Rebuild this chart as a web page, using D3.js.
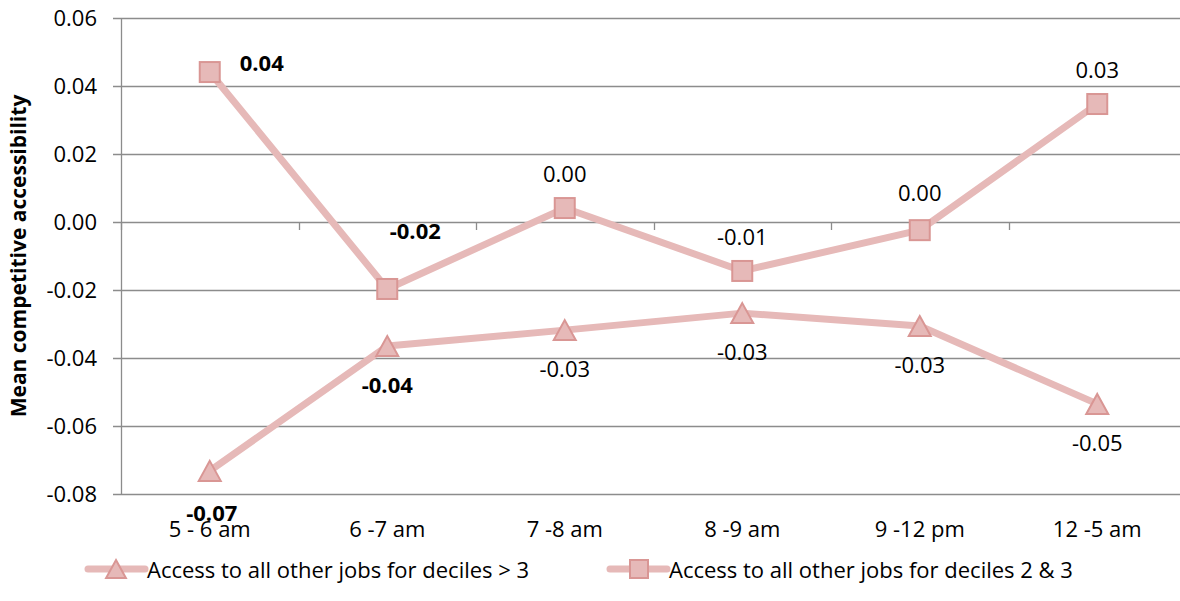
<!DOCTYPE html>
<html>
<head>
<meta charset="utf-8">
<script src="https://cdn.jsdelivr.net/npm/d3@7/dist/d3.min.js"></script>
<style>
  html, body { margin: 0; padding: 0; background: #fff; }
  svg { display: block; }
  text { font-family: "Open Sans", "Noto Sans", sans-serif; fill: #000; }
</style>
</head>
<body>
<svg id="chart" width="1180" height="601"></svg>
<script>
// ---- data ----
const categories = ["5 - 6 am", "6 -7 am", "7 -8 am", "8 -9 am", "9 -12 pm", "12 -5 am"];
const seriesNames = ["Access to all other jobs for deciles > 3", "Access to all other jobs for deciles 2 & 3"];
const decilesAbove3 = [-0.0732, -0.0365, -0.0318, -0.0268, -0.0306, -0.0535];
const deciles2and3 = [0.0441, -0.0197, 0.0041, -0.0144, -0.0024, 0.0347];
const yTickValues = [-0.08, -0.06, -0.04, -0.02, 0.00, 0.02, 0.04, 0.06];
const yTitle = "Mean competitive accessibility";

// ---- layout / style ----
const W = 1180, H = 601;
const plot = { left: 121, right: 1186, top: 18, bottom: 494 };
const lineColor = "#e6b9b8";
const markerStroke = "#d99694";
const gridColor = "#8c8c8c";
const fontSize = 22;

const loc = d3.formatLocale({ decimal: ".", thousands: ",", grouping: [3], currency: ["$", ""], minus: "-" });
const f2 = loc.format(".2f");
const fmt = v => { let s = f2(v); if (parseFloat(s) === 0) s = "0.00"; return s; };

const svg = d3.select("#chart");

const x = d3.scaleBand().domain(categories).range([plot.left, plot.right]).padding(0);
const cx = c => x(c) + x.bandwidth() / 2;
const y = d3.scaleLinear().domain([-0.08, 0.06]).range([plot.bottom, plot.top]);

// gridlines
svg.append("g").selectAll("line").data(yTickValues).join("line")
  .attr("x1", plot.left - 8).attr("x2", plot.right)
  .attr("y1", d => Math.round(y(d)) + 0.5).attr("y2", d => Math.round(y(d)) + 0.5)
  .attr("stroke", gridColor).attr("stroke-width", 1.3);

// y axis line
svg.append("line")
  .attr("x1", plot.left + 0.5).attr("x2", plot.left + 0.5)
  .attr("y1", plot.top).attr("y2", plot.bottom)
  .attr("stroke", gridColor).attr("stroke-width", 1.3);

// y tick labels
const yAxis = d3.axisLeft(y).tickValues(yTickValues).tickFormat(fmt).tickSize(0).tickPadding(24);
const gy = svg.append("g").attr("transform", `translate(${plot.left},0)`).call(yAxis);
gy.select(".domain").remove();
gy.selectAll("text").style("font-family", '"Open Sans", sans-serif').style("font-size", fontSize + "px").attr("fill", "#000").attr("dy", "0.35em");

// category tick marks on zero line (boundaries)
const boundaries = categories.map(c => x(c)).concat([plot.right]);
svg.append("g").selectAll("line").data(boundaries).join("line")
  .attr("x1", d => Math.round(d) + 0.5).attr("x2", d => Math.round(d) + 0.5)
  .attr("y1", Math.round(y(0))).attr("y2", Math.round(y(0)) + 8)
  .attr("stroke", gridColor).attr("stroke-width", 1.3);

// x category labels
const xAxis = d3.axisBottom(x).tickSize(0).tickPadding(27);
const gx = svg.append("g").attr("transform", `translate(0,${plot.bottom})`).call(xAxis);
gx.select(".domain").remove();
gx.selectAll("text").style("font-family", '"Open Sans", sans-serif').style("font-size", fontSize + "px").attr("fill", "#000");

// y title
svg.append("text")
  .attr("transform", `translate(18,${(plot.top + plot.bottom) / 2}) rotate(-90)`)
  .attr("text-anchor", "middle").attr("dominant-baseline", "central")
  .style("font-size", "21px").style("font-weight", "bold")
  .text(yTitle);

// series
const line = d3.line().x((d, i) => cx(categories[i])).y(d => y(d));
const triPath = (s) => `M0,${-s * 0.5}L${s * 0.55},${s * 0.5}L${-s * 0.55},${s * 0.5}Z`;

function drawSeries(values, marker) {
  const g = svg.append("g");
  g.append("path").datum(values).attr("d", line)
    .attr("fill", "none").attr("stroke", lineColor).attr("stroke-width", 7).attr("stroke-linejoin", "round");
  const m = g.selectAll(".m").data(values).join("g")
    .attr("transform", (d, i) => `translate(${cx(categories[i])},${y(d)})`);
  if (marker === "square") {
    m.append("rect").attr("x", -10).attr("y", -10).attr("width", 20).attr("height", 20)
      .attr("fill", lineColor).attr("stroke", markerStroke).attr("stroke-width", 2);
  } else {
    m.append("path").attr("d", triPath(20))
      .attr("fill", lineColor).attr("stroke", markerStroke).attr("stroke-width", 2);
  }
}
drawSeries(decilesAbove3, "triangle");
drawSeries(deciles2and3, "square");

// data labels
const labelStyle = {
  tri: { dy: 38, bold: [true, true, false, false, false, false], nudge: { 0: [2, 3], 1: [0, 0] } },
  sq: { dy: -35, bold: [true, true, false, false, false, false], nudge: { 0: [52, 25], 1: [28, -24], 4: [0, -3] } }
};
function drawLabels(values, st) {
  svg.append("g").selectAll("text").data(values).join("text")
    .attr("x", (d, i) => cx(categories[i]) + (st.nudge[i] ? st.nudge[i][0] : 0))
    .attr("y", (d, i) => y(d) + st.dy + (st.nudge[i] ? st.nudge[i][1] : 0))
    .attr("text-anchor", "middle").attr("dominant-baseline", "central")
    .style("font-size", fontSize + "px")
    .style("font-weight", (d, i) => st.bold[i] ? "bold" : "normal")
    .text(d => fmt(d));
}
drawLabels(decilesAbove3, labelStyle.tri);
drawLabels(deciles2and3, labelStyle.sq);

// legend
const legendItems = [
  { name: seriesNames[0], marker: "triangle", x0: 88 },
  { name: seriesNames[1], marker: "square", x0: 610 }
];
const ly = 569;
legendItems.forEach(it => {
  const g = svg.append("g").attr("transform", `translate(${it.x0},${ly})`);
  g.append("line").attr("x1", 0).attr("x2", 57).attr("y1", 0).attr("y2", 0)
    .attr("stroke", lineColor).attr("stroke-width", 7).attr("stroke-linecap", "round");
  if (it.marker === "square") {
    g.append("rect").attr("x", 29 - 9).attr("y", -9).attr("width", 18).attr("height", 18)
      .attr("fill", lineColor).attr("stroke", markerStroke).attr("stroke-width", 2);
  } else {
    g.append("path").attr("transform", "translate(28,0)").attr("d", triPath(18))
      .attr("fill", lineColor).attr("stroke", markerStroke).attr("stroke-width", 2);
  }
  g.append("text").attr("x", 59).attr("y", 0).attr("dominant-baseline", "central")
    .style("font-size", fontSize + "px").text(it.name);
});
</script>
</body>
</html>
